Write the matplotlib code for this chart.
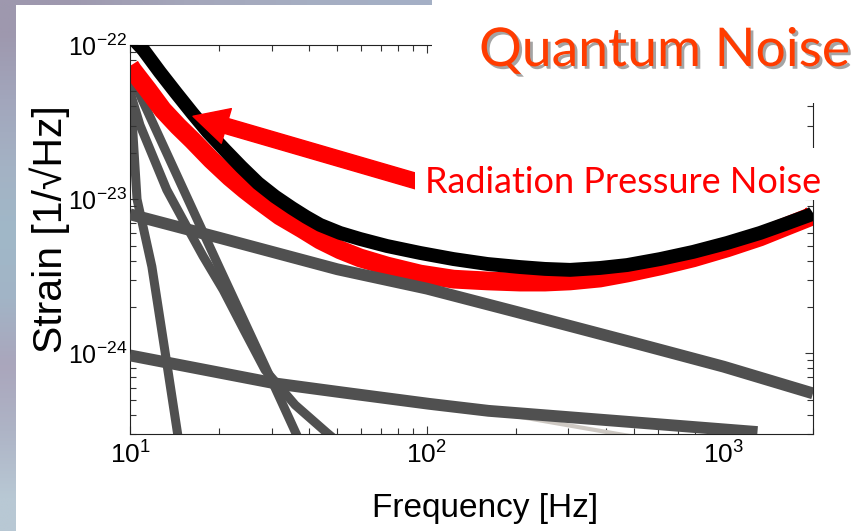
import numpy as np
import matplotlib.pyplot as plt
import matplotlib.patheffects as pe
from matplotlib.patches import Rectangle
from matplotlib.colors import to_rgb
from matplotlib.ticker import NullFormatter

"""Noise curves, strain amplitude vs frequency"""
# total quantum noise
f_total = [10.2, 11.1, 12.6, 14.3, 16.2, 18.3, 20.9, 23.7, 27, 30.8, 35.1, 39.2, 43.7, 51,
           59.6, 73.4, 95, 123, 160, 206, 250, 304, 383, 473, 611, 789, 1027, 1327, 1610,
           1955, 2000]
h_total = [1.11e-22, 9.29e-23, 6.68e-23, 4.89e-23, 3.62e-23, 2.73e-23, 2.08e-23, 1.62e-23,
           1.27e-23, 1.04e-23, 8.77e-24, 7.67e-24, 6.81e-24, 6.04e-24, 5.52e-24, 4.97e-24,
           4.48e-24, 4.09e-24, 3.80e-24, 3.63e-24, 3.53e-24, 3.48e-24, 3.58e-24, 3.74e-24,
           4.09e-24, 4.55e-24, 5.20e-24, 6.04e-24, 6.90e-24, 7.91e-24, 8.15e-24]

# quantum noise with radiation pressure
f_rp = [10, 10.2, 11.5, 12.9, 14.5, 16.2, 18.8, 21.7, 24.4, 27, 32, 38, 43.7, 51, 59.6,
        73.4, 95, 123, 160, 206, 250, 304, 383, 473, 611, 789, 1027, 1327, 1610, 1955, 2000]
h_rp = [7.31e-23, 6.89e-23, 5.11e-23, 3.79e-23, 2.98e-23, 2.42e-23, 1.80e-23, 1.39e-23,
        1.15e-23, 9.89e-24, 7.78e-24, 6.41e-24, 5.43e-24, 4.69e-24, 4.16e-24, 3.69e-24,
        3.27e-24, 3.03e-24, 2.95e-24, 2.90e-24, 2.90e-24, 2.95e-24, 3.08e-24, 3.32e-24,
        3.69e-24, 4.16e-24, 4.83e-24, 5.69e-24, 6.61e-24, 7.67e-24, 8.02e-24]

# other noise sources (grey)
f_seis = [10, 10.56, 11.85, 13.31, 14.49, 14.83]
h_seis = [5.4e-23, 1.0e-23, 3.65e-24, 8.6e-25, 2.95e-25, 2.1e-25]

f_susp = [10, 15, 20, 30, 40]
h_susp = [6.56e-23, 1.2e-23, 3.6e-24, 6.7e-25, 2.0e-25]

f_grav = [10, 10.8, 11.9, 13.3, 15.1, 17.6, 20.6, 24.2, 28.5, 36, 46.1, 53]
h_grav = [4.96e-23, 3.03e-23, 1.93e-23, 1.15e-23, 7.33e-24, 4.29e-24, 2.58e-24, 1.42e-24,
          7.81e-25, 4.63e-25, 3.05e-25, 2.44e-25]

f_ctn = [10, 20, 50, 100, 200, 500, 1000, 2000]
h_ctn = [7.98e-24, 5.62e-24, 3.51e-24, 2.63e-24, 1.86e-24, 1.17e-24, 8.2e-25, 5.5e-25]

f_sub = [10, 31.1, 52.7, 101.6, 161.4, 1300]
h_sub = [9.7e-25, 6.37e-25, 5.56e-25, 4.71e-25, 4.24e-25, 3.09e-25]

f_gas = [150, 225, 441, 500]
h_gas = [4.3e-25, 3.76e-25, 3.0e-25, 2.88e-25]

x_ticks = [10, 100, 1000]
y_ticks = [1e-24, 1e-23, 1e-22]

W, H = 859, 531
fig = plt.figure(figsize=(W/100, H/100), dpi=100)

# slide background: left and top strips around the white panel
strip = ['#9e98ae', '#a2a6bc', '#a4b2c4', '#a0b8c8', '#a2b4c6', '#aaa6bc', '#aeb4c6', '#b8c8d4']
top = ['#9e98ae', '#a4a6ba', '#a6aec2', '#a4b0c6', '#a8b0c0', '#a8acb4', '#a8a8aa']
left_ax = fig.add_axes([0, 0, 16/W, 1], zorder=-10)
left_ax.imshow(np.array([[to_rgb(c)] for c in strip]), aspect='auto',
               interpolation='bilinear', extent=[0, 1, 0, 1])
left_ax.axis('off')
top_ax = fig.add_axes([0, (H-5)/H, 1, 5/H], zorder=-10)
top_ax.imshow(np.array([[to_rgb(c) for c in top]]), aspect='auto',
              interpolation='bilinear', extent=[0, 1, 0, 1])
top_ax.axis('off')

ax = fig.add_axes([130/W, (H-434)/H, 683/W, 389/H])
grey = '#505050'
ax.loglog(f_seis, h_seis, c=grey, lw=6.5, solid_capstyle='butt', zorder=1)
ax.loglog(f_susp, h_susp, c=grey, lw=6.5, solid_capstyle='butt', zorder=1)
ax.loglog(f_grav, h_grav, c=grey, lw=6.5, solid_capstyle='butt', zorder=1)
ax.loglog(f_rp, h_rp, c='#ff0000', lw=13.5, solid_capstyle='butt', zorder=2)
ax.loglog(f_gas, h_gas, c='#cdc8c2', lw=3, solid_capstyle='butt', zorder=2)
ax.loglog(f_ctn, h_ctn, c=grey, lw=8.5, solid_capstyle='butt', zorder=3)
ax.loglog(f_sub, h_sub, c=grey, lw=8.5, solid_capstyle='butt', zorder=3)
ax.loglog(f_total, h_total, c='#000000', lw=10, solid_capstyle='butt', zorder=4)

ax.set_xlim(10, 2000)
ax.set_ylim(3e-25, 1e-22)
ax.set_xticks(x_ticks)
ax.set_yticks(y_ticks)
ax.xaxis.set_minor_formatter(NullFormatter())
ax.yaxis.set_minor_formatter(NullFormatter())
ax.tick_params(which='both', direction='in', top=True, right=True, color='#333333', width=0.8,
               labelfontfamily='Liberation Sans')
ax.tick_params(which='major', length=6)
ax.tick_params(which='minor', length=4)
ax.tick_params(axis='x', pad=5, labelsize=19)
ax.tick_params(axis='y', pad=2, labelsize=18)
for s in ax.spines.values():
    s.set_color('#222222')
    s.set_linewidth(0.8)

fig.text(50/W, (H-229)/H, 'Strain [1/\u221aHz]', rotation=90, ha='center', va='center',
         family=['Liberation Sans', 'DejaVu Sans'], fontsize=29.5)
fig.text(485/W, (H-508)/H, 'Frequency [Hz]', ha='center', va='center',
         family='Liberation Sans', fontsize=24)

# title panel and label panel sit over the frame
fig.patches.append(Rectangle((432/W, (H-103)/H), 1, 1, transform=fig.transFigure,
                             facecolor='white', edgecolor='none', zorder=5))
fig.patches.append(Rectangle((415/W, (H-200)/H), 420/W, 52/H, transform=fig.transFigure,
                             facecolor='white', edgecolor='none', zorder=5))

fig.text(479/W, (H-66)/H, 'Quantum Noise', ha='left', va='baseline', family='Lato',
         fontsize=38.5, color='#ff3c00', zorder=6,
         path_effects=[pe.SimplePatchShadow(offset=(2, -2), shadow_rgbFace='#9a9a9a', alpha=0.9),
                       pe.Normal()])
fig.text(425/W, (H-193)/H, 'Radiation Pressure Noise', ha='left', va='baseline',
         family='Lato', fontsize=26, color='#ff0000', zorder=6)

ax.annotate('', xy=(16.3, 3.45e-23), xycoords='data',
            xytext=(419, H-182), textcoords='figure pixels',
            arrowprops=dict(arrowstyle='simple,head_length=2.5,head_width=2.6,tail_width=1.1',
                            mutation_scale=10, color='#ff0000', shrinkA=0, shrinkB=0),
            annotation_clip=False, zorder=7)

plt.savefig('out.png', dpi=100)
